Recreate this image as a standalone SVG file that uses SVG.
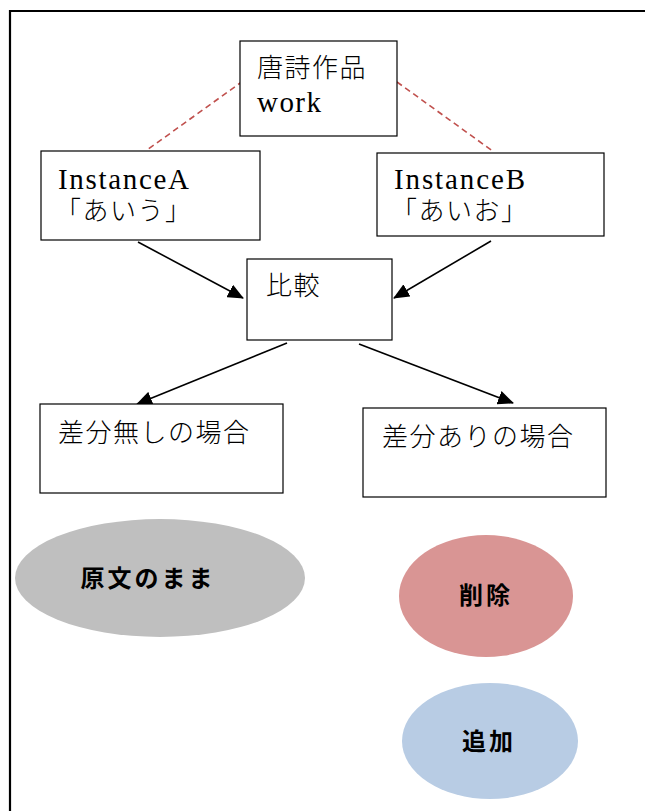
<svg xmlns="http://www.w3.org/2000/svg" width="645" height="811" viewBox="0 0 645 811">
<style>
.box{fill:#fff;stroke:#000;stroke-width:1.2}
.t{font-family:"Liberation Serif","Noto Sans CJK JP",serif;font-size:26px;fill:#000;font-weight:300}
.l{font-family:"Liberation Serif",serif;font-size:29px;fill:#000}
.j{letter-spacing:1.5px}
.b{font-family:"Noto Sans CJK JP","Liberation Sans",sans-serif;font-size:24px;font-weight:700;fill:#000;letter-spacing:3px;text-anchor:middle}
.dash{stroke:#c0504d;stroke-width:1.6;stroke-dasharray:6 4;fill:none}
.arr{stroke:#000;stroke-width:1.6;fill:none;marker-end:url(#ahl)}
</style>
<defs>
<marker id="ahl" markerWidth="16" markerHeight="14" refX="15" refY="7" orient="auto" markerUnits="userSpaceOnUse">
<path d="M0,0 L16,7 L0,14 z" fill="#000"/>
</marker>
</defs>
<rect width="645" height="811" fill="#fff"/>
<path d="M10,811 V11 H645" fill="none" stroke="#000" stroke-width="2.2"/>
<g id="connectors">
<line class="dash" x1="243" y1="81" x2="147" y2="150"/>
<line class="dash" x1="397" y1="82" x2="494" y2="152"/>
<line class="arr" x1="138" y1="242" x2="243" y2="298"/>
<line class="arr" x1="491" y1="241" x2="394" y2="298"/>
<line class="arr" x1="287" y1="343" x2="137" y2="404"/>
<line class="arr" x1="359" y1="344" x2="513" y2="403"/>
</g>
<g id="work">
<rect class="box" x="240" y="41" width="157" height="95"/>
<text class="t j" x="257" y="77">唐詩作品</text>
<text class="l" x="257" y="112" textLength="64" lengthAdjust="spacing">work</text>
</g>
<g id="instanceA">
<rect class="box" x="41" y="151" width="219" height="89"/>
<text class="l" x="58" y="189" textLength="131" lengthAdjust="spacing">InstanceA</text>
<text class="t j" x="55" y="220">「あいう」</text>
</g>
<g id="instanceB">
<rect class="box" x="377" y="153" width="227" height="83"/>
<text class="l" x="394" y="189" textLength="131" lengthAdjust="spacing">InstanceB</text>
<text class="t j" x="391" y="220">「あいお」</text>
</g>
<g id="hikaku">
<rect class="box" x="247" y="259" width="145" height="81"/>
<text class="t j" x="266" y="295">比較</text>
</g>
<g id="nodiff">
<rect class="box" x="40" y="404" width="243" height="89"/>
<text class="t j" x="58" y="442">差分無しの場合</text>
</g>
<g id="diff">
<rect class="box" x="363" y="408" width="243" height="89"/>
<text class="t j" x="382" y="446">差分ありの場合</text>
</g>
<g id="original">
<ellipse cx="160" cy="578" rx="145" ry="59" fill="#bfbfbf"/>
<text class="b" x="148" y="587">原文のまま</text>
</g>
<g id="delete">
<ellipse cx="486" cy="596" rx="87" ry="61" fill="#d99594"/>
<text class="b" x="486" y="604">削除</text>
</g>
<g id="add">
<ellipse cx="490" cy="741" rx="88" ry="58" fill="#b8cce4"/>
<text class="b" x="489" y="750">追加</text>
</g>
</svg>
